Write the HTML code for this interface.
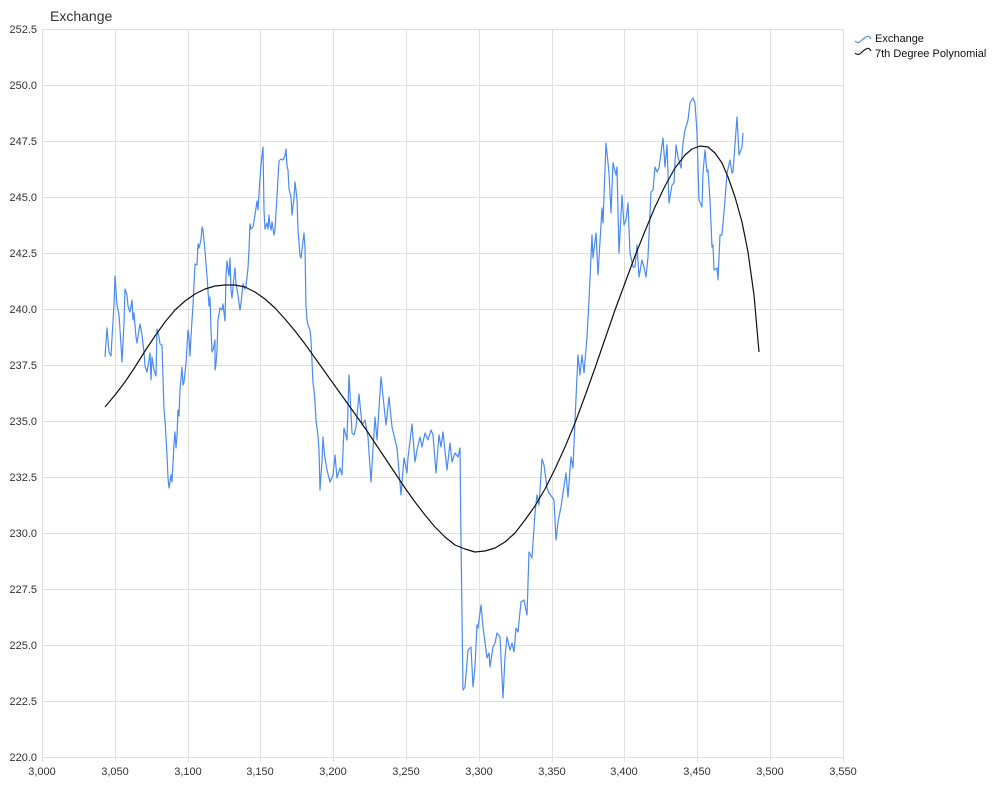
<!DOCTYPE html>
<html><head><meta charset="utf-8"><style>
html,body{margin:0;padding:0;background:#fff;}
svg{display:block;font-family:"Liberation Sans",sans-serif;}
</style></head><body>
<svg width="992" height="786" viewBox="0 0 992 786" xmlns="http://www.w3.org/2000/svg">
<rect width="992" height="786" fill="#fff"/>
<g stroke="#e0e0e0" stroke-width="1">
<line x1="42" y1="29.5" x2="843" y2="29.5"/><line x1="42" y1="85.5" x2="843" y2="85.5"/><line x1="42" y1="141.5" x2="843" y2="141.5"/><line x1="42" y1="197.5" x2="843" y2="197.5"/><line x1="42" y1="253.5" x2="843" y2="253.5"/><line x1="42" y1="309.5" x2="843" y2="309.5"/><line x1="42" y1="365.5" x2="843" y2="365.5"/><line x1="42" y1="421.5" x2="843" y2="421.5"/><line x1="42" y1="477.5" x2="843" y2="477.5"/><line x1="42" y1="533.5" x2="843" y2="533.5"/><line x1="42" y1="589.5" x2="843" y2="589.5"/><line x1="42" y1="645.5" x2="843" y2="645.5"/><line x1="42" y1="701.5" x2="843" y2="701.5"/><line x1="42" y1="757.5" x2="843" y2="757.5"/>
<line x1="42.5" y1="29" x2="42.5" y2="762"/><line x1="115.5" y1="29" x2="115.5" y2="762"/><line x1="188.5" y1="29" x2="188.5" y2="762"/><line x1="260.5" y1="29" x2="260.5" y2="762"/><line x1="333.5" y1="29" x2="333.5" y2="762"/><line x1="406.5" y1="29" x2="406.5" y2="762"/><line x1="479.5" y1="29" x2="479.5" y2="762"/><line x1="552.5" y1="29" x2="552.5" y2="762"/><line x1="624.5" y1="29" x2="624.5" y2="762"/><line x1="697.5" y1="29" x2="697.5" y2="762"/><line x1="770.5" y1="29" x2="770.5" y2="762"/><line x1="843.5" y1="29" x2="843.5" y2="762"/>
</g>
<g font-size="11" fill="#333" text-anchor="end">
<text x="37" y="33">252.5</text><text x="37" y="89">250.0</text><text x="37" y="145">247.5</text><text x="37" y="201">245.0</text><text x="37" y="257">242.5</text><text x="37" y="313">240.0</text><text x="37" y="369">237.5</text><text x="37" y="425">235.0</text><text x="37" y="481">232.5</text><text x="37" y="537">230.0</text><text x="37" y="593">227.5</text><text x="37" y="649">225.0</text><text x="37" y="705">222.5</text><text x="37" y="761">220.0</text>
</g>
<g font-size="11" fill="#333" text-anchor="middle">
<text x="42" y="775">3,000</text><text x="115" y="775">3,050</text><text x="188" y="775">3,100</text><text x="260" y="775">3,150</text><text x="333" y="775">3,200</text><text x="406" y="775">3,250</text><text x="479" y="775">3,300</text><text x="552" y="775">3,350</text><text x="624" y="775">3,400</text><text x="697" y="775">3,450</text><text x="770" y="775">3,500</text><text x="843" y="775">3,550</text>
</g>
<text x="50" y="21" font-size="14" fill="#333">Exchange</text>
<polyline fill="none" stroke="#4a8af4" stroke-width="1.2" stroke-linejoin="round" points="105,357 107,328 109,352 111,356 112,338 114,305 115,276 117,305 119,315 121,345 122,362 124,323 125,289 127,295 128,306 130,312 132,300 133,320 134,313 136,337 137,343 139,330 140,324 142,335 144,352 145,366 147,372 149,360 150,353 151,380 152,357 154,370 156,376 157,329 159,337 160,344 162,345 164,410 165,420 167,455 168,478 169,488 171,475 172,482 174,444 175,432 176,448 177,436 178,410 179,416 180,390 182,367 183,385 184,382 186,363 188,330 189,337 190,356 191,337 192,320 193,305 195,264 197,265 198,244 199,248 201,240 202,227 203,230 205,251 207,276 209,306 210,297 211,329 212,352 213,350 215,340 215,370 216,364 217,350 218,320 220,308 222,310 223,304 225,321 226,276 227,261 229,276 230,258 231,290 232,298 234,277 235,268 236,284 238,295 240,310 241,303 243,284 245,289 246,286 248,268 249,250 250,224 251,229 253,227 255,215 257,201 258,210 260,178 261,165 263,147 264,210 265,229 267,223 268,229 269,215 270,226 271,230 272,222 273,228 274,235 275,230 277,196 279,161 281,159 283,160 285,156 286,149 287,166 288,170 289,189 291,197 292,215 294,198 295,182 297,199 298,229 300,256 301,258 303,241 304,233 305,248 306,306 307,320 308,325 310,330 311,340 313,383 314,390 315,402 316,420 318,436 319,450 320,490 322,461 323,437 324,450 325,458 327,470 330,482 333,475 335,455 337,478 340,468 342,475 344,428 347,440 349,375 352,433 354,435 356,427 359,394 362,425 365,420 368,437 371,482 375,417 377,440 381,377 386,425 389,397 392,427 397,448 401,495 404,458 407,473 408,458 412,424 415,462 417,450 420,437 422,447 425,433 428,440 431,430 433,435 436,473 439,435 441,447 443,432 447,470 450,443 452,462 455,453 458,457 460,448 461,540 463,690 465,687 468,650 471,647 473,687 475,667 477,625 478,628 481,605 483,627 487,658 489,653 490,667 493,647 495,643 497,633 500,637 503,698 505,657 507,637 510,650 512,643 514,652 516,628 518,632 521,602 524,600 527,615 529,552 532,558 535,513 537,495 539,505 542,459 544,465 547,488 549,493 552,497 554,500 556,540 558,522 561,507 563,493 566,473 568,497 571,457 573,468 575,420 578,355 580,375 582,355 584,373 587,337 589,300 592,235 593,258 596,233 598,275 602,208 603,223 606,143 609,173 611,213 613,163 616,175 617,167 619,253 622,195 624,225 626,220 628,203 630,253 633,267 635,267 637,245 639,277 642,260 644,267 646,277 648,257 651,192 653,190 655,167 657,172 659,168 663,138 665,167 667,145 669,203 672,185 674,183 676,145 678,157 681,168 683,143 685,130 688,120 690,103 693,98 695,103 697,133 699,200 702,207 703,173 705,150 707,172 708,170 710,200 712,247 713,245 714,270 717,268 718,280 720,235 722,235 725,200 727,173 730,160 732,173 733,172 737,117 739,155 742,147 743,133"/>
<polyline fill="none" stroke="#111" stroke-width="1.2" stroke-linejoin="round" points="105,407 115,395 125,382 135,367 145,351 155,336 165,322 175,310 185,301 195,294 205,289 215,286 225,285 235,285 245,287 255,292 265,299 275,308 285,319 295,331 305,344 315,358 325,372 335,386 345,400 355,414 365,428 375,443 385,458 395,473 405,488 415,502 425,515 435,527 445,537 455,545 465,549 475,552 485,551 495,548 505,542 515,533 525,520 535,506 545,489 555,469 565,447 575,423 585,396 595,368 605,339 615,310 625,283 635,256 645,231 655,207 665,186 675,168 685,155 692,149 700,146 708,147 715,153 722,163 728,177 735,197 742,222 748,252 754,295 759,352"/>
<g font-size="11" fill="#111">
<path d="M855,41 q3,3 6,0 t5,-4 q3,-2 5,2" fill="none" stroke="#4a8af4" stroke-width="1.2"/>
<text x="875" y="42">Exchange</text>
<path d="M855,53 q3,3 6,0 t5,-4 q3,-2 5,2" fill="none" stroke="#111" stroke-width="1.2"/>
<text x="875" y="57">7th Degree Polynomial</text>
</g>
</svg>
</body></html>
